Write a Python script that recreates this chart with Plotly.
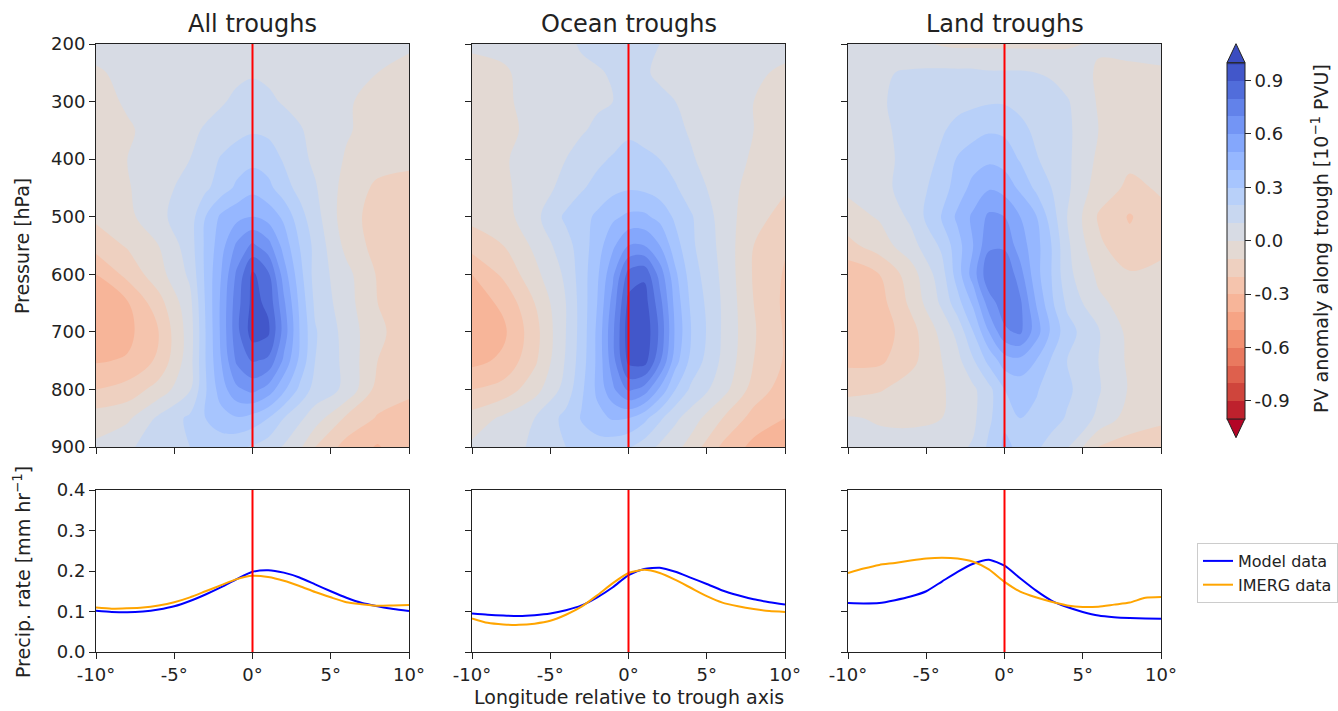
import plotly.graph_objects as go

W, H = 1338, 711

# ---------------- data ----------------
lon_grid = [-10, -8, -6, -4, -3, -2, -1, 0, 1, 2, 3, 4, 6, 8, 10]
pressure = [200, 250, 300, 350, 400, 450, 500, 550, 600, 650, 700, 750, 800, 850, 900]

pv_all = [
    [0.03, 0.04, 0.04, 0.05, 0.05, 0.06, 0.07, 0.07, 0.06, 0.05, 0.04, 0.03, 0.02, 0.01, 0.01],
    [-0.01, 0.02, 0.03, 0.04, 0.05, 0.06, 0.08, 0.09, 0.08, 0.06, 0.04, 0.03, 0.01, 0.00, -0.02],
    [-0.03, 0.01, 0.04, 0.06, 0.07, 0.09, 0.12, 0.14, 0.12, 0.09, 0.07, 0.05, 0.01, -0.03, -0.05],
    [-0.05, -0.01, 0.03, 0.08, 0.11, 0.14, 0.17, 0.19, 0.18, 0.15, 0.11, 0.07, 0.01, -0.04, -0.06],
    [-0.05, 0.00, 0.05, 0.10, 0.15, 0.21, 0.25, 0.27, 0.25, 0.19, 0.13, 0.08, -0.01, -0.06, -0.08],
    [-0.06, -0.01, 0.07, 0.13, 0.18, 0.25, 0.32, 0.37, 0.33, 0.24, 0.17, 0.11, -0.04, -0.12, -0.13],
    [-0.08, -0.03, 0.08, 0.15, 0.30, 0.42, 0.47, 0.50, 0.46, 0.38, 0.24, 0.14, -0.06, -0.14, -0.15],
    [-0.16, -0.09, 0.00, 0.15, 0.32, 0.46, 0.62, 0.72, 0.64, 0.46, 0.30, 0.17, -0.03, -0.14, -0.16],
    [-0.30, -0.17, -0.04, 0.12, 0.32, 0.50, 0.72, 0.92, 0.82, 0.55, 0.34, 0.16, 0.03, -0.11, -0.15],
    [-0.34, -0.31, -0.14, 0.07, 0.31, 0.52, 0.76, 0.93, 0.88, 0.62, 0.38, 0.18, 0.04, -0.10, -0.15],
    [-0.36, -0.33, -0.20, 0.05, 0.30, 0.52, 0.77, 0.95, 0.92, 0.66, 0.40, 0.21, 0.06, -0.08, -0.15],
    [-0.31, -0.29, -0.18, 0.06, 0.30, 0.50, 0.72, 0.81, 0.78, 0.58, 0.38, 0.20, 0.07, -0.10, -0.16],
    [-0.20, -0.16, -0.06, 0.09, 0.29, 0.45, 0.58, 0.63, 0.56, 0.42, 0.28, 0.16, 0.08, -0.14, -0.19],
    [-0.05, -0.02, 0.12, 0.22, 0.30, 0.36, 0.39, 0.36, 0.30, 0.20, 0.12, 0.05, -0.12, -0.21, -0.22],
    [0.02, 0.09, 0.13, 0.20, 0.22, 0.24, 0.22, 0.19, 0.15, 0.09, 0.02, -0.10, -0.24, -0.31, -0.22],
]

pv_ocean = [
    [0.01, 0.02, 0.05, 0.08, 0.11, 0.13, 0.14, 0.14, 0.12, 0.10, 0.07, 0.05, 0.03, 0.02, 0.02],
    [-0.02, -0.01, 0.03, 0.06, 0.08, 0.09, 0.11, 0.13, 0.11, 0.085, 0.06, 0.04, 0.02, 0.01, -0.01],
    [-0.03, -0.01, 0.02, 0.05, 0.07, 0.085, 0.10, 0.13, 0.13, 0.12, 0.10, 0.07, 0.03, 0.00, -0.02],
    [-0.04, -0.02, 0.02, 0.06, 0.09, 0.12, 0.15, 0.18, 0.17, 0.15, 0.12, 0.09, 0.04, 0.00, -0.03],
    [-0.04, -0.01, 0.04, 0.10, 0.14, 0.18, 0.21, 0.24, 0.22, 0.20, 0.16, 0.11, 0.04, -0.01, -0.05],
    [-0.05, -0.02, 0.05, 0.13, 0.19, 0.23, 0.27, 0.29, 0.28, 0.25, 0.21, 0.15, 0.05, -0.04, -0.09],
    [-0.07, -0.04, 0.07, 0.22, 0.26, 0.32, 0.38, 0.42, 0.42, 0.37, 0.28, 0.21, 0.06, -0.07, -0.13],
    [-0.16, -0.10, 0.02, 0.16, 0.25, 0.35, 0.48, 0.60, 0.60, 0.50, 0.34, 0.22, 0.07, -0.10, -0.19],
    [-0.30, -0.18, -0.03, 0.12, 0.25, 0.38, 0.58, 0.84, 0.88, 0.66, 0.42, 0.25, 0.08, -0.11, -0.21],
    [-0.35, -0.28, -0.10, 0.10, 0.24, 0.40, 0.64, 0.93, 0.95, 0.74, 0.46, 0.28, 0.09, -0.10, -0.22],
    [-0.38, -0.32, -0.14, 0.10, 0.24, 0.42, 0.68, 0.96, 0.98, 0.78, 0.48, 0.30, 0.09, -0.09, -0.21],
    [-0.33, -0.28, -0.12, 0.11, 0.25, 0.42, 0.66, 0.93, 0.95, 0.72, 0.44, 0.27, 0.08, -0.10, -0.21],
    [-0.20, -0.16, -0.04, 0.14, 0.28, 0.42, 0.58, 0.72, 0.66, 0.48, 0.30, 0.18, 0.04, -0.14, -0.25],
    [-0.06, 0.02, 0.10, 0.23, 0.31, 0.37, 0.41, 0.40, 0.33, 0.22, 0.12, 0.05, -0.10, -0.24, -0.30],
    [0.02, 0.05, 0.12, 0.20, 0.23, 0.25, 0.24, 0.21, 0.15, 0.08, 0.03, -0.04, -0.22, -0.33, -0.32],
]

pv_land = [
    [0.04, 0.05, 0.03, -0.01, -0.02, -0.02, -0.02, -0.02, -0.02, -0.02, -0.02, -0.01, 0.01, 0.03, 0.03],
    [0.06, 0.09, 0.11, 0.12, 0.12, 0.12, 0.11, 0.11, 0.11, 0.10, 0.09, 0.05, -0.01, -0.02, -0.01],
    [0.05, 0.09, 0.13, 0.15, 0.17, 0.18, 0.19, 0.19, 0.17, 0.15, 0.13, 0.11, -0.01, -0.03, -0.02],
    [0.05, 0.08, 0.13, 0.19, 0.23, 0.26, 0.29, 0.28, 0.23, 0.18, 0.15, 0.12, 0.00, -0.04, -0.04],
    [0.04, 0.08, 0.12, 0.22, 0.31, 0.36, 0.38, 0.36, 0.29, 0.21, 0.16, 0.12, -0.02, -0.08, -0.08],
    [0.02, 0.07, 0.14, 0.25, 0.35, 0.43, 0.49, 0.46, 0.38, 0.28, 0.20, 0.12, -0.05, -0.12, -0.09],
    [-0.04, 0.01, 0.12, 0.31, 0.42, 0.52, 0.62, 0.60, 0.50, 0.41, 0.25, 0.10, -0.11, -0.21, -0.12],
    [-0.13, -0.05, 0.06, 0.22, 0.36, 0.50, 0.68, 0.68, 0.55, 0.44, 0.30, 0.12, -0.08, -0.17, -0.12],
    [-0.27, -0.20, -0.05, 0.16, 0.35, 0.55, 0.78, 0.80, 0.64, 0.44, 0.30, 0.13, -0.02, -0.09, -0.08],
    [-0.29, -0.24, -0.08, 0.12, 0.26, 0.42, 0.65, 0.76, 0.72, 0.50, 0.32, 0.18, 0.02, -0.04, -0.05],
    [-0.28, -0.26, -0.14, 0.03, 0.13, 0.30, 0.50, 0.68, 0.72, 0.55, 0.38, 0.24, 0.11, -0.03, -0.04],
    [-0.22, -0.22, -0.13, 0.00, 0.07, 0.19, 0.33, 0.45, 0.47, 0.40, 0.29, 0.20, 0.10, -0.02, -0.04],
    [-0.14, -0.11, -0.05, -0.01, 0.03, 0.08, 0.17, 0.30, 0.34, 0.31, 0.26, 0.22, 0.11, -0.01, -0.03],
    [0.01, -0.01, -0.02, 0.00, 0.03, 0.08, 0.18, 0.28, 0.30, 0.28, 0.24, 0.19, 0.08, -0.05, -0.09],
    [0.02, 0.03, 0.04, 0.06, 0.08, 0.11, 0.22, 0.32, 0.28, 0.22, 0.16, 0.11, -0.11, -0.14, -0.13],
]

lon_line = [-10, -9, -8, -7, -6, -5, -4, -3, -2, -1, 0, 1, 2, 3, 4, 5, 6, 7, 8, 9, 10]
model_all = [0.102, 0.099, 0.098, 0.100, 0.105, 0.113, 0.126, 0.142, 0.160, 0.180, 0.198,
             0.202, 0.196, 0.184, 0.167, 0.150, 0.134, 0.121, 0.113, 0.106, 0.101]
imerg_all = [0.110, 0.107, 0.108, 0.110, 0.115, 0.123, 0.135, 0.150, 0.165, 0.180, 0.188,
             0.185, 0.176, 0.163, 0.148, 0.135, 0.123, 0.118, 0.114, 0.115, 0.116]
model_ocean = [0.095, 0.092, 0.090, 0.089, 0.091, 0.095, 0.103, 0.115, 0.135, 0.160, 0.190,
               0.205, 0.208, 0.198, 0.183, 0.168, 0.152, 0.140, 0.130, 0.123, 0.117]
imerg_ocean = [0.083, 0.072, 0.068, 0.067, 0.070, 0.077, 0.092, 0.112, 0.140, 0.170, 0.195,
               0.203, 0.195, 0.178, 0.158, 0.138, 0.122, 0.113, 0.106, 0.101, 0.099]
model_land = [0.121, 0.120, 0.121, 0.128, 0.137, 0.150, 0.174, 0.198, 0.218, 0.228, 0.213,
              0.182, 0.152, 0.127, 0.111, 0.099, 0.090, 0.086, 0.084, 0.083, 0.082]
imerg_land = [0.195, 0.206, 0.215, 0.220, 0.226, 0.231, 0.233, 0.231, 0.223, 0.204, 0.173,
              0.149, 0.135, 0.124, 0.115, 0.111, 0.112, 0.117, 0.122, 0.134, 0.136]

panel_titles = ["All troughs", "Ocean troughs", "Land troughs"]
lon_ticks = [-10, -5, 0, 5, 10]
lon_ticktext = ["-10°", "-5°", "0°", "5°", "10°"]
p_ticks = [200, 300, 400, 500, 600, 700, 800, 900]
precip_ticks = [0.0, 0.1, 0.2, 0.3, 0.4]
cbar_ticks = [-0.9, -0.6, -0.3, 0.0, 0.3, 0.6, 0.9]
cbar_ticktext = ["-0.9", "-0.6", "-0.3", "0.0", "0.3", "0.6", "0.9"]

# ---------------- style ----------------
coolwarm = [
    (0.2298057, 0.298717966, 0.753683153), (0.26623388, 0.353094838, 0.801466763),
    (0.30386891, 0.406535296, 0.84495867), (0.342804478, 0.458757618, 0.883725899),
    (0.38301334, 0.50941904, 0.917387822), (0.424369608, 0.558148092, 0.945619588),
    (0.46666708, 0.604562568, 0.968154911), (0.509635204, 0.648280772, 0.98478814),
    (0.552953156, 0.688929332, 0.995375608), (0.596262162, 0.726149107, 0.999836203),
    (0.639176211, 0.759599947, 0.998151185), (0.681291281, 0.788964712, 0.990363227),
    (0.722193294, 0.813952739, 0.976574709), (0.761464949, 0.834302879, 0.956945269),
    (0.798691636, 0.849786142, 0.931688648), (0.833466556, 0.860207984, 0.901068838),
    (0.865395197, 0.86541021, 0.865395561), (0.897787179, 0.848937047, 0.820880546),
    (0.924127593, 0.827384882, 0.774508472), (0.944468518, 0.800927443, 0.726736146),
    (0.958852946, 0.769767752, 0.678007945), (0.96732803, 0.734132809, 0.628751763),
    (0.969954137, 0.694266682, 0.579375448), (0.966811177, 0.650421156, 0.530263762),
    (0.958003065, 0.602842431, 0.481775914), (0.943660866, 0.551750968, 0.434243684),
    (0.923944917, 0.49730856, 0.387970225), (0.89904617, 0.439559467, 0.343229596),
    (0.869186849, 0.378313092, 0.300267182), (0.834620542, 0.312874446, 0.259301199),
    (0.795631745, 0.24128379, 0.220525627), (0.752534934, 0.157246067, 0.184115123),
    (0.705673158, 0.01555616, 0.150232812),
]
n = len(coolwarm)
colorscale = []
for i in range(n):
    r, g, b = coolwarm[n - 1 - i]
    colorscale.append([i / (n - 1), f"rgb({round(r*255)},{round(g*255)},{round(b*255)})"])

FONT = "DejaVu Sans"
TICK_SIZE = 18
LABEL_SIZE = 19
TITLE_SIZE = 24


def fx(px):
    return px / W


def fy(py):
    return 1 - py / H


lefts = [96, 472, 848]
pw = 313
top_y = (44, 447)
bot_y = (490, 652)

fig = go.Figure()

pv_sets = [pv_all, pv_ocean, pv_land]
line_sets = [(model_all, imerg_all), (model_ocean, imerg_ocean), (model_land, imerg_land)]

for i in range(3):
    xa_top = "x" if i == 0 else f"x{i+1}"
    ya_top = "y" if i == 0 else f"y{i+1}"
    fig.add_trace(go.Contour(
        x=lon_grid, y=pressure, z=pv_sets[i],
        xaxis=xa_top, yaxis=ya_top,
        colorscale=colorscale, zmin=-1, zmax=1,
        autocontour=False,
        contours=dict(start=-1, end=1, size=0.1, coloring="fill", showlines=False),
        line=dict(width=0),
        showscale=(i == 0),
        colorbar=dict(
            thickness=18, thicknessmode="pixels",
            len=356 / H, lenmode="fraction",
            x=fx(1227), xanchor="left", xpad=0,
            y=fy(240.7), yanchor="middle", ypad=0,
            outlinewidth=1, outlinecolor="#222",
            ticks="outside", ticklen=6, tickwidth=1, tickcolor="#222",
            tickmode="array", tickvals=cbar_ticks, ticktext=cbar_ticktext,
            tickfont=dict(family=FONT, size=TICK_SIZE, color="#222"),
        ),
        hoverinfo="skip",
    ))

for i in range(3):
    xa = f"x{i+4}"
    ya = f"y{i+4}"
    m, o = line_sets[i]
    fig.add_trace(go.Scatter(x=lon_line, y=m, xaxis=xa, yaxis=ya, mode="lines",
                             line=dict(color="#0000ff", width=2, shape="spline", smoothing=0.6),
                             name="Model data", showlegend=(i == 2), legendrank=1))
    fig.add_trace(go.Scatter(x=lon_line, y=o, xaxis=xa, yaxis=ya, mode="lines",
                             line=dict(color="#ffa500", width=2, shape="spline", smoothing=0.6),
                             name="IMERG data", showlegend=(i == 2), legendrank=2))

axis_common = dict(showline=True, mirror=True, linecolor="#222", linewidth=1,
                   ticks="outside", ticklen=6, tickwidth=1, tickcolor="#222",
                   showgrid=False, zeroline=False,
                   tickfont=dict(family=FONT, size=TICK_SIZE, color="#222"))

layout = dict(
    width=W, height=H,
    margin=dict(l=0, r=0, t=0, b=0, autoexpand=False),
    paper_bgcolor="white", plot_bgcolor="white",
    font=dict(family=FONT, color="#222"),
    showlegend=True,
    legend=dict(x=fx(1197), y=fy(543), xanchor="left", yanchor="top",
                bgcolor="white", bordercolor="#cccccc", borderwidth=1,
                font=dict(family=FONT, size=16, color="#222"),
                tracegroupgap=0, itemwidth=30),
)

for i in range(3):
    sfx_top = "" if i == 0 else str(i + 1)
    sfx_bot = str(i + 4)
    dom_x = [fx(lefts[i]), fx(lefts[i] + pw)]
    layout[f"xaxis{sfx_top}"] = dict(axis_common, domain=dom_x, range=[-10, 10],
                                     tickmode="array", tickvals=lon_ticks, ticktext=lon_ticktext,
                                     showticklabels=False, anchor=f"y{sfx_top}")
    layout[f"yaxis{sfx_top}"] = dict(axis_common, domain=[fy(top_y[1]), fy(top_y[0])],
                                     range=[900, 200], tickmode="array", tickvals=p_ticks,
                                     showticklabels=(i == 0), anchor=f"x{sfx_top}")
    layout[f"xaxis{sfx_bot}"] = dict(axis_common, domain=dom_x, range=[-10, 10],
                                     tickmode="array", tickvals=lon_ticks, ticktext=lon_ticktext,
                                     showticklabels=True, anchor=f"y{sfx_bot}")
    layout[f"yaxis{sfx_bot}"] = dict(axis_common, domain=[fy(bot_y[1]), fy(bot_y[0])],
                                     range=[0, 0.4], tickmode="array", tickvals=precip_ticks,
                                     tickformat=".1f", showticklabels=(i == 0),
                                     anchor=f"x{sfx_bot}")

fig.update_layout(**layout)

shapes = []
for i in range(6):
    xr = "x" if i == 0 else f"x{i+1}"
    yr = "y" if i == 0 else f"y{i+1}"
    shapes.append(dict(type="line", xref=xr, yref=f"{yr} domain", x0=0, x1=0, y0=0, y1=1,
                       line=dict(color="#ff0000", width=2), layer="above"))

# colorbar extension triangles
cb_l, cb_r = 1227, 1245
cb_top, cb_bot = 62.7, 418.7
tri = 19
top_color = colorscale[-1][1]
bot_color = colorscale[0][1]
shapes.append(dict(type="path", xref="paper", yref="paper",
                   path=f"M {fx(cb_l)},{fy(cb_top)} L {fx((cb_l+cb_r)/2)},{fy(cb_top-tri)} L {fx(cb_r)},{fy(cb_top)} Z",
                   fillcolor=top_color, line=dict(color="#222", width=1)))
shapes.append(dict(type="path", xref="paper", yref="paper",
                   path=f"M {fx(cb_l)},{fy(cb_bot)} L {fx((cb_l+cb_r)/2)},{fy(cb_bot+tri)} L {fx(cb_r)},{fy(cb_bot)} Z",
                   fillcolor=bot_color, line=dict(color="#222", width=1)))
# legend shadow
shapes.append(dict(type="rect", xref="paper", yref="paper",
                   x0=fx(1200), x1=fx(1338), y0=fy(602), y1=fy(547),
                   fillcolor="#9a9a9a", line=dict(width=0), layer="below"))
fig.update_layout(shapes=shapes)

ann = []
centers = [lefts[i] + pw / 2 for i in range(3)]
for i in range(3):
    ann.append(dict(text=panel_titles[i], x=fx(centers[i]), y=fy(24), xref="paper", yref="paper",
                    showarrow=False, xanchor="center", yanchor="middle",
                    font=dict(family=FONT, size=TITLE_SIZE, color="#222")))
ann.append(dict(text="Longitude relative to trough axis", x=fx(centers[1]), y=fy(697),
                xref="paper", yref="paper", showarrow=False, xanchor="center", yanchor="middle",
                font=dict(family=FONT, size=LABEL_SIZE, color="#222")))
ann.append(dict(text="Pressure [hPa]", x=fx(22), y=fy(246), textangle=-90,
                xref="paper", yref="paper", showarrow=False, xanchor="center", yanchor="middle",
                font=dict(family=FONT, size=LABEL_SIZE, color="#222")))
ann.append(dict(text="Precip. rate [mm hr<sup>−1</sup>]", x=fx(22), y=fy(572), textangle=-90,
                xref="paper", yref="paper", showarrow=False, xanchor="center", yanchor="middle",
                font=dict(family=FONT, size=LABEL_SIZE, color="#222")))
ann.append(dict(text="PV anomaly along trough [10<sup>−1</sup> PVU]", x=fx(1320), y=fy(239),
                textangle=-90, xref="paper", yref="paper", showarrow=False,
                xanchor="center", yanchor="middle",
                font=dict(family=FONT, size=LABEL_SIZE, color="#222")))
fig.update_layout(annotations=ann)

fig.write_html("out.html")
